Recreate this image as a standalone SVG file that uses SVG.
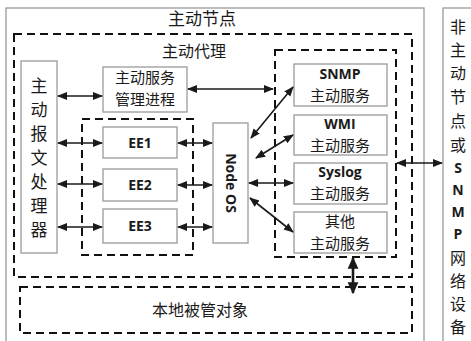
<svg xmlns="http://www.w3.org/2000/svg" width="471" height="341" viewBox="0 0 471 341">
<defs>
<style>
.solid{fill:#fff;stroke:#9a9a9a;stroke-width:1.3}
.dash{fill:none;stroke:#111;stroke-width:2;stroke-dasharray:8 5}
.cn{font-family:"Noto Sans CJK SC","Noto Sans",sans-serif;font-size:15px;fill:#1a1a1a;text-anchor:middle}
.en{font-family:"Open Sans","Noto Sans",sans-serif;font-size:14px;font-weight:bold;fill:#1a1a1a;text-anchor:middle}
.arr{stroke:#1a1a1a;stroke-width:1.6;fill:none;marker-start:url(#ah);marker-end:url(#ah)}
</style>
<marker id="ah" viewBox="0 0 10 10" refX="9" refY="5" markerWidth="10" markerHeight="10" markerUnits="userSpaceOnUse" orient="auto-start-reverse">
<path d="M0,1 L10,5 L0,9 Z" fill="#1a1a1a"/>
</marker>
<marker id="ahb" viewBox="0 0 10 10" refX="9" refY="5" markerWidth="12" markerHeight="12" markerUnits="userSpaceOnUse" orient="auto-start-reverse">
<path d="M0,0.5 L10,5 L0,9.5 Z" fill="#1a1a1a"/>
</marker>
</defs>
<rect width="471" height="341" fill="#fff"/>

<g id="active-node">
<rect class="solid" x="6" y="8" width="418" height="340" fill="none"/>
<text class="cn" x="202" y="25" style="font-size:17px">主动节点</text>
</g>

<g id="non-active-node">
<rect class="solid" x="443" y="8" width="40" height="340"/>
<g class="cn" style="font-size:16px">
<text x="458" y="33">非</text>
<text x="458" y="56">主</text>
<text x="458" y="79">动</text>
<text x="458" y="103">节</text>
<text x="458" y="127">点</text>
<text x="458" y="151">或</text>
</g>
<g class="en">
<text x="458" y="173">S</text>
<text x="458" y="195">N</text>
<text x="458" y="217">M</text>
<text x="458" y="239">P</text>
</g>
<g class="cn" style="font-size:16px">
<text x="458" y="264">网</text>
<text x="458" y="287">络</text>
<text x="458" y="310">设</text>
<text x="458" y="333">备</text>
</g>
</g>

<g id="active-agent">
<rect class="dash" x="14" y="34" width="398" height="243"/>
<text class="cn" x="194" y="57" style="font-size:16px">主动代理</text>
</g>

<g id="local-object">
<rect class="dash" x="20" y="287" width="392" height="46"/>
<text class="cn" x="200" y="316" style="font-size:16px">本地被管对象</text>
</g>

<g id="msg-processor">
<rect class="solid" x="21" y="61" width="36" height="192"/>
<g class="cn" style="font-size:17px">
<text x="39" y="92">主</text>
<text x="39" y="116">动</text>
<text x="39" y="140">报</text>
<text x="39" y="164">文</text>
<text x="39" y="188">处</text>
<text x="39" y="212">理</text>
<text x="39" y="236">器</text>
</g>
</g>

<g id="service-manager">
<rect class="solid" x="103" y="67" width="84" height="45"/>
<text class="cn" x="145" y="83">主动服务</text>
<text class="cn" x="145" y="105">管理进程</text>
</g>

<g id="ee-group">
<rect class="dash" x="82" y="119" width="111" height="136"/>
</g>
<g id="ee1">
<rect class="solid" x="103" y="127" width="74" height="31"/>
<text class="en" x="140" y="148">EE1</text>
</g>
<g id="ee2">
<rect class="solid" x="103" y="169" width="74" height="32"/>
<text class="en" x="140" y="190">EE2</text>
</g>
<g id="ee3">
<rect class="solid" x="103" y="209" width="74" height="34"/>
<text class="en" x="140" y="231">EE3</text>
</g>

<g id="node-os">
<rect class="solid" x="213" y="123" width="35" height="120"/>
<text class="en" transform="translate(231,183) rotate(90)" y="5">Node OS</text>
</g>

<g id="services-group">
<rect class="dash" x="275" y="50" width="121" height="207"/>
</g>
<g id="snmp">
<rect class="solid" x="294" y="64" width="93" height="42"/>
<text class="en" x="340" y="79">SNMP</text>
<text class="cn" x="340" y="101">主动服务</text>
</g>
<g id="wmi">
<rect class="solid" x="294" y="115" width="93" height="40"/>
<text class="en" x="340" y="129">WMI</text>
<text class="cn" x="340" y="151">主动服务</text>
</g>
<g id="syslog">
<rect class="solid" x="294" y="163" width="93" height="41"/>
<text class="en" x="340" y="177">Syslog</text>
<text class="cn" x="340" y="199">主动服务</text>
</g>
<g id="other">
<rect class="solid" x="294" y="212" width="93" height="41"/>
<text class="cn" x="340" y="227">其他</text>
<text class="cn" x="340" y="249">主动服务</text>
</g>

<g id="connectors">
<line class="arr" x1="58" y1="96" x2="102" y2="96"/>
<line class="arr" x1="188" y1="89" x2="273" y2="89"/>
<line class="arr" x1="58" y1="143" x2="102" y2="143"/>
<line class="arr" x1="58" y1="184" x2="102" y2="184"/>
<line class="arr" x1="58" y1="227" x2="102" y2="227"/>
<line class="arr" x1="178" y1="143" x2="212" y2="143"/>
<line class="arr" x1="178" y1="185" x2="212" y2="185"/>
<line class="arr" x1="178" y1="227" x2="212" y2="227"/>
<line class="arr" x1="251" y1="138" x2="293" y2="87"/>
<line class="arr" x1="256" y1="158" x2="293" y2="135"/>
<line class="arr" x1="249" y1="183" x2="293" y2="183"/>
<line class="arr" x1="250" y1="198" x2="293" y2="232"/>
<line class="arr" x1="397" y1="163" x2="442" y2="163"/>
<line class="arr" x1="353" y1="258" x2="353" y2="293" style="stroke-width:2.6;marker-start:url(#ahb);marker-end:url(#ahb)"/>
</g>
</svg>
